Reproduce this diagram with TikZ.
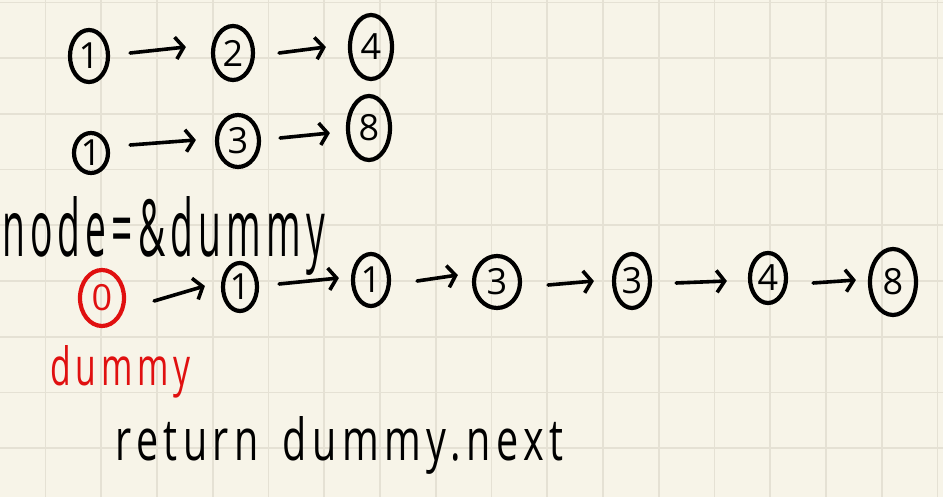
\documentclass[tikz,border=0pt]{standalone}
\usepackage{fontspec}
\setmainfont{Open Sans}
\newfontfamily\handfont[LetterSpace=14]{Open Sans}
\usetikzlibrary{arrows.meta,shapes.geometric,calc}
\definecolor{paper}{HTML}{F7F4E8}
\definecolor{gridc}{HTML}{E5E1D4}
\definecolor{inkred}{HTML}{E01010}
\tikzset{
  num/.style={ellipse,draw,line width=4.2pt,inner sep=0pt,font=\fontsize{36}{36}\selectfont},
  arr/.style={line width=3.6pt,line cap=round,-{Straight Barb[length=8pt,width=22pt,line width=3.6pt]}},
  hand/.style={anchor=base west,inner sep=0pt,font=\handfont}
}
\begin{document}
\begin{tikzpicture}[x=1pt,y=-1pt]
\useasboundingbox (0,0) rectangle (943,497);
\fill[paper] (0,0) rectangle (943,497);
\foreach \k in {-1,...,16} \draw[gridc,line width=1.8pt] ({45.5+55.75*\k},0) -- ({45.5+55.75*\k},497);
\foreach \k in {0,...,8} \draw[gridc,line width=1.8pt] (0,{2.5+55.7*\k}) -- (943,{2.5+55.7*\k});

% row 1
\node[num,minimum width=38pt,minimum height=52pt] (a1) at (89,56) {1};
\node[num,minimum width=40pt,minimum height=54pt] (a2) at (233,53) {2};
\node[num,minimum width=42pt,minimum height=64pt] (a4) at (371,47) {4};
\draw[arr] ($(a1.east)+(20,-3)$) -- ($(a2.west)+(-25,-6)$);
\draw[arr] ($(a2.east)+(24,0)$) -- ($(a4.west)+(-22,0)$);

% row 2
\node[num,minimum width=34pt,minimum height=40pt] (c1) at (91,153) {1};
\node[num,minimum width=42pt,minimum height=52pt] (c3) at (238,141) {3};
\node[num,minimum width=42pt,minimum height=64pt] (c8) at (369,128) {8};
\draw[arr] ($(c1.east)+(20,-8)$) -- ($(c3.west)+(-19,-1)$);
\draw[arr] ($(c3.east)+(19,-3)$) -- ($(c8.west)+(-16,5)$);

% node = &dummy
\node[hand] (lbl) at (2,257) {\resizebox{323pt}{60pt}{node=\&dummy}};

% merged list
\node[num,draw=inkred,text=inkred,minimum width=44pt,minimum height=56pt] (b0) at (102,298) {0};
\node[num,minimum width=34pt,minimum height=48pt] (b1) at (240,287) {1};
\node[num,minimum width=36pt,minimum height=52pt] (b2) at (371,280) {1};
\node[num,minimum width=46pt,minimum height=52pt] (b3) at (497,282) {3};
\node[num,minimum width=36pt,minimum height=54pt] (b4) at (632,281) {3};
\node[num,minimum width=36pt,minimum height=50pt] (b5) at (768,278) {4};
\node[num,minimum width=46pt,minimum height=66pt] (b6) at (893,282) {8};
\draw[arr] ($(b0.east)+(28,3)$) -- ($(b1.west)+(-16,-1)$);
\draw[arr] ($(b1.east)+(20,-3)$) -- ($(b2.west)+(-12,-2)$);
\draw[arr] ($(b2.east)+(26,1)$) -- ($(b3.west)+(-14,-7)$);
\draw[arr] ($(b3.east)+(26,3)$) -- ($(b4.west)+(-18,0)$);
\draw[arr] ($(b4.east)+(24,2)$) -- ($(b5.west)+(-21,3)$);
\draw[arr] ($(b5.east)+(25,5)$) -- ($(b6.west)+(-12,-2)$);

% labels
\node[hand,text=inkred] (dm) at (50,385) {\resizebox{140pt}{40pt}{dummy}};
\node[hand] (ret) at (115,460) {\resizebox{448pt}{44pt}{return\hspace{0.6em}dummy.next}};
\end{tikzpicture}
\end{document}
